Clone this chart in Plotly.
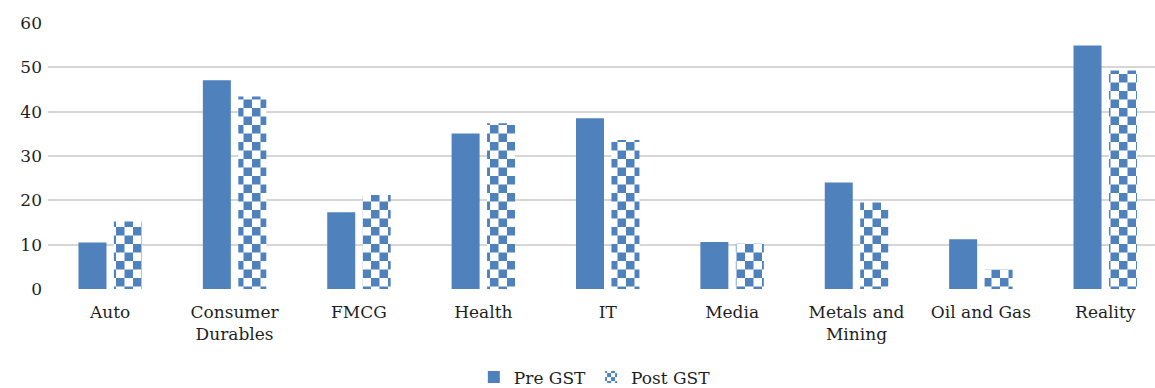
import plotly.graph_objects as go

# Sector returns before and after GST
sectors = ["Auto", "Consumer<br>Durables", "FMCG", "Health", "IT", "Media",
           "Metals and<br>Mining", "Oil and Gas", "Reality"]
pre_gst = [10.5, 47.1, 17.3, 35.1, 38.5, 10.6, 24.0, 11.2, 54.9]
post_gst = [15.2, 43.4, 21.2, 37.4, 33.6, 10.2, 19.5, 4.4, 49.3]
y_ticks = [0, 10, 20, 30, 40, 50, 60]

BLUE = "#4F81BD"
FONT = "DejaVu Serif"
TEXT = "#1F1F1F"

fig = go.Figure()
fig.add_trace(go.Bar(
    name="Pre GST", x=sectors, y=pre_gst,
    marker=dict(color=BLUE, line=dict(width=0)),
))
fig.add_trace(go.Bar(
    name="Post GST", x=sectors, y=post_gst,
    marker=dict(
        color="white", line=dict(width=0),
        pattern=dict(shape=".", size=17, solidity=0.5,
                     fgcolor=BLUE, bgcolor="white", fillmode="replace"),
    ),
))

fig.update_layout(
    width=1155, height=388,
    margin=dict(l=48, r=0, t=23, b=99),
    paper_bgcolor="white", plot_bgcolor="white",
    barmode="group", bargap=0.43, bargroupgap=0.21,
    font=dict(family=FONT, size=17, color=TEXT),
    showlegend=True,
    legend=dict(
        orientation="h", xref="container", yref="container",
        x=0.515, xanchor="center", y=0.027, yanchor="middle",
        font=dict(family=FONT, size=17, color=TEXT),
        itemwidth=30, tracegroupgap=0,
    ),
    xaxis=dict(
        range=[-0.5, 8.4], showgrid=False, zeroline=False,
        showline=False, ticks="", ticklabelstandoff=11,
        tickfont=dict(family=FONT, size=17, color=TEXT),
    ),
    yaxis=dict(
        range=[0, 60], tickvals=y_ticks, showgrid=True,
        gridcolor="#D6D6D6", gridwidth=1.5, zeroline=False,
        showline=False, ticks="", ticklabelstandoff=5,
        tickfont=dict(family=FONT, size=17, color=TEXT),
    ),
)

# Turn the Post GST fill pattern into a checkerboard of blue squares
checker_js = """
var gd = document.getElementById('{plot_id}');
var NS = 'http://www.w3.org/2000/svg';
gd.querySelectorAll('pattern').forEach(function(p) {
  var s = parseFloat(p.getAttribute('width'));
  var h = s / 2;
  while (p.firstChild) { p.removeChild(p.firstChild); }
  var bg = document.createElementNS(NS, 'rect');
  bg.setAttribute('width', s); bg.setAttribute('height', s);
  bg.setAttribute('fill', 'white');
  p.appendChild(bg);
  [[0, 0], [h, h]].forEach(function(o) {
    var r = document.createElementNS(NS, 'rect');
    r.setAttribute('x', o[0]); r.setAttribute('y', o[1]);
    r.setAttribute('width', h); r.setAttribute('height', h);
    r.setAttribute('fill', '%s');
    p.appendChild(r);
  });
});
""" % BLUE

fig.write_html("out.html", post_script=checker_js)
